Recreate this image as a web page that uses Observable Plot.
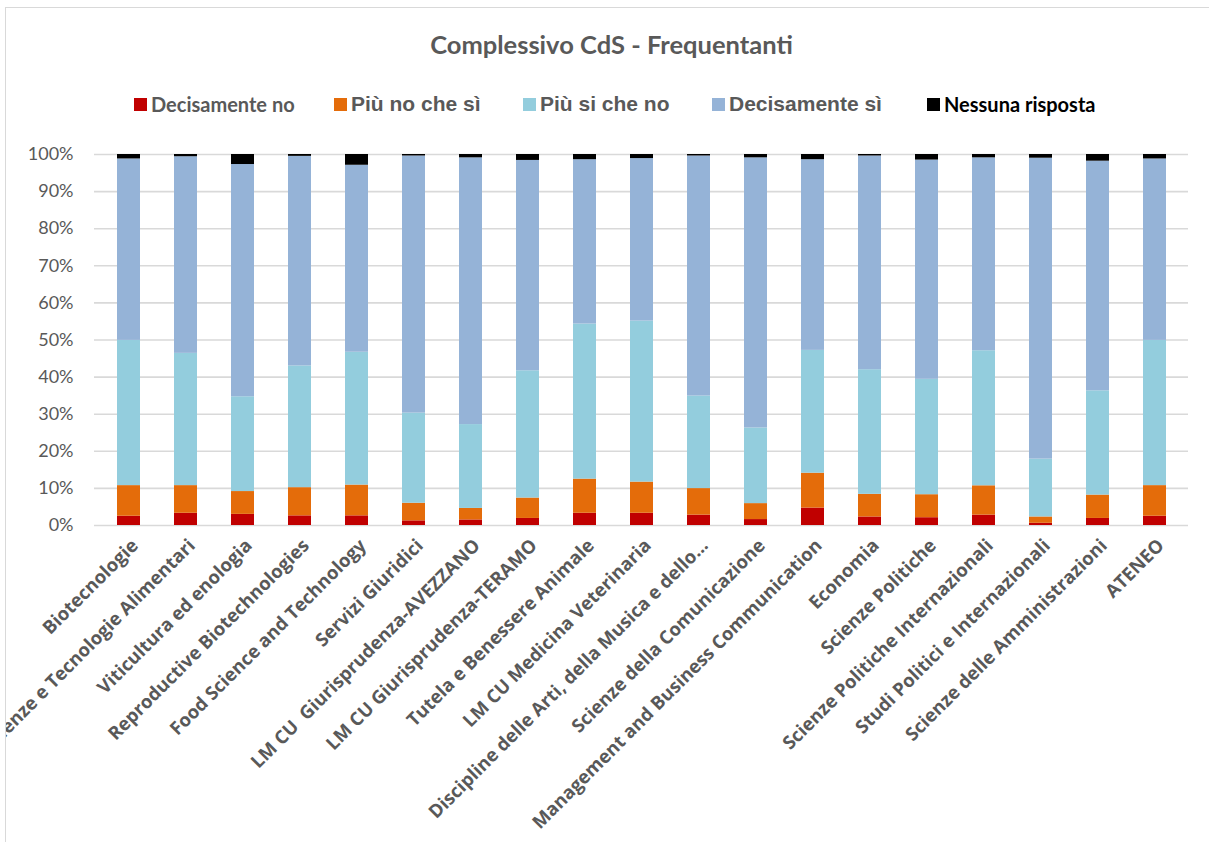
<!DOCTYPE html>
<html>
<head>
<meta charset="utf-8">
<script src="https://cdn.jsdelivr.net/npm/d3@7"></script>
<script src="https://cdn.jsdelivr.net/npm/@observablehq/plot@0.6"></script>
<style>
  html, body { margin: 0; padding: 0; background: #fff; width: 1209px; height: 842px; overflow: hidden; }
  #frame { position: absolute; left: 5px; top: 7px; width: 1230px; height: 860px; border: 1.5px solid #d9d9d9; box-sizing: border-box; }
  #title { position: absolute; left: 0; width: 1223px; top: 29px; text-align: center; font-family: Lato, sans-serif; font-weight: 700; font-size: 25.5px; color: #595959; white-space: nowrap; }
  .leg { position: absolute; top: 92px; height: 24px; white-space: nowrap; font-weight: 700; line-height: 24px; }
  .sw { position: absolute; top: 6px; width: 12.5px; height: 12.5px; }
  .lt { position: absolute; left: 17px; top: 0; }
  #chart { position: absolute; left: 6px; top: 130px; }
</style>
</head>
<body>
<div id="frame"></div>
<div id="title">Complessivo CdS - Frequentanti</div>
<div id="legend"></div>
<div id="chart"></div>
<script>
// Categories (corsi di studio)
const cds = [
  "Biotecnologie",
  "Scienze e Tecnologie Alimentari",
  "Viticultura ed enologia",
  "Reproductive Biotechnologies",
  "Food Science and Technology",
  "Servizi Giuridici",
  "LM CU  Giurisprudenza-AVEZZANO",
  "LM CU Giurisprudenza-TERAMO",
  "Tutela e Benessere Animale",
  "LM CU Medicina Veterinaria",
  "Discipline delle Arti, della Musica e dello…",
  "Scienze della Comunicazione",
  "Management and Business Communication",
  "Economia",
  "Scienze Politiche",
  "Scienze Politiche Internazionali",
  "Studi Politici e Internazionali",
  "Scienze delle Amministrazioni",
  "ATENEO"
];

// Series names
const responses = ["Decisamente no", "Più no che sì", "Più si che no", "Decisamente sì", "Nessuna risposta"];
const colors = ["#C00000", "#E46C0A", "#93CDDD", "#95B3D7", "#000000"];

// Values (%)
const decisamenteNo  = [2.5, 3.3, 3.0, 2.6, 2.6, 1.25, 1.5, 1.9, 3.3, 3.3, 2.8, 1.6, 4.7, 2.3, 2.1, 2.8, 0.6, 1.9, 2.5];
const piuNoCheSi     = [8.25, 7.45, 6.15, 7.6, 8.3, 4.75, 3.1, 5.5, 9.2, 8.4, 7.15, 4.3, 9.4, 6.1, 6.2, 7.9, 1.7, 6.3, 8.25];
const piuSiCheNo     = [39.15, 35.65, 25.55, 32.8, 35.8, 24.3, 22.6, 34.3, 41.8, 43.4, 24.95, 20.4, 33.1, 33.6, 31.1, 36.4, 15.6, 28.1, 39.15];
const decisamenteSi  = [48.9, 53.0, 62.6, 56.5, 50.4, 69.3, 71.9, 56.7, 44.3, 43.8, 64.7, 72.8, 51.4, 57.6, 59.1, 52.0, 81.1, 61.9, 48.9];
const nessunaRisposta= [1.2, 0.6, 2.7, 0.5, 2.9, 0.4, 0.9, 1.6, 1.4, 1.1, 0.4, 0.9, 1.4, 0.4, 1.5, 0.9, 1.0, 1.8, 1.2];

const yTicks = [0, 0.1, 0.2, 0.3, 0.4, 0.5, 0.6, 0.7, 0.8, 0.9, 1.0];

const seriesValues = [decisamenteNo, piuNoCheSi, piuSiCheNo, decisamenteSi, nessunaRisposta];
const data = [];
cds.forEach((c, i) => {
  responses.forEach((r, j) => {
    data.push({cds: c, resp: r, value: seriesValues[j][i] / 100});
  });
});

// Legend (HTML)
const legendItems = [
  {x: 134, font: "Lato, sans-serif", size: 20, color: "#595959"},
  {x: 334, font: "'Liberation Sans', Arial, sans-serif", size: 21, color: "#595959"},
  {x: 523, font: "'Liberation Sans', Arial, sans-serif", size: 21, color: "#595959"},
  {x: 712, font: "'Liberation Sans', Arial, sans-serif", size: 21, color: "#595959"},
  {x: 927, font: "Lato, sans-serif", size: 20, color: "#000000"}
];
const legend = document.getElementById("legend");
responses.forEach((r, j) => {
  const it = legendItems[j];
  const d = document.createElement("div");
  d.className = "leg";
  d.style.left = it.x + "px";
  d.innerHTML = `<span class="sw" style="background:${colors[j]}"></span><span class="lt" style="font-family:${it.font};font-size:${it.size}px;color:${it.color}">${r}</span>`;
  legend.appendChild(d);
});

const chart = Plot.plot({
  width: 1203,
  height: 712,
  marginLeft: 88,
  marginRight: 21,
  marginTop: 24,
  marginBottom: 317,
  style: {background: "transparent", overflow: "hidden", fontFamily: "'Open Sans', sans-serif"},
  x: {domain: cds, paddingInner: 0.6, paddingOuter: 0.3, label: null},
  y: {domain: [0, 1], label: null},
  color: {domain: responses, range: colors},
  marks: [
    Plot.ruleY(yTicks, {stroke: "#d9d9d9", strokeWidth: 1.6}),
    Plot.barY(data, {x: "cds", y: "value", fill: "resp"}),
    Plot.axisY(yTicks, {tickSize: 0, tickPadding: 21, tickFormat: d3.format(".0%"), fontSize: 18, fontFamily: "Lato, sans-serif", fill: "#595959", label: null}),
    Plot.axisX({tickSize: 0, tickPadding: 17, dx: 6, tickRotate: -45, fontSize: 18.5, fontWeight: "bold", fontFamily: "'Open Sans', sans-serif", fill: "#595959", label: null})
  ]
});
document.getElementById("chart").appendChild(chart);
</script>
</body>
</html>
